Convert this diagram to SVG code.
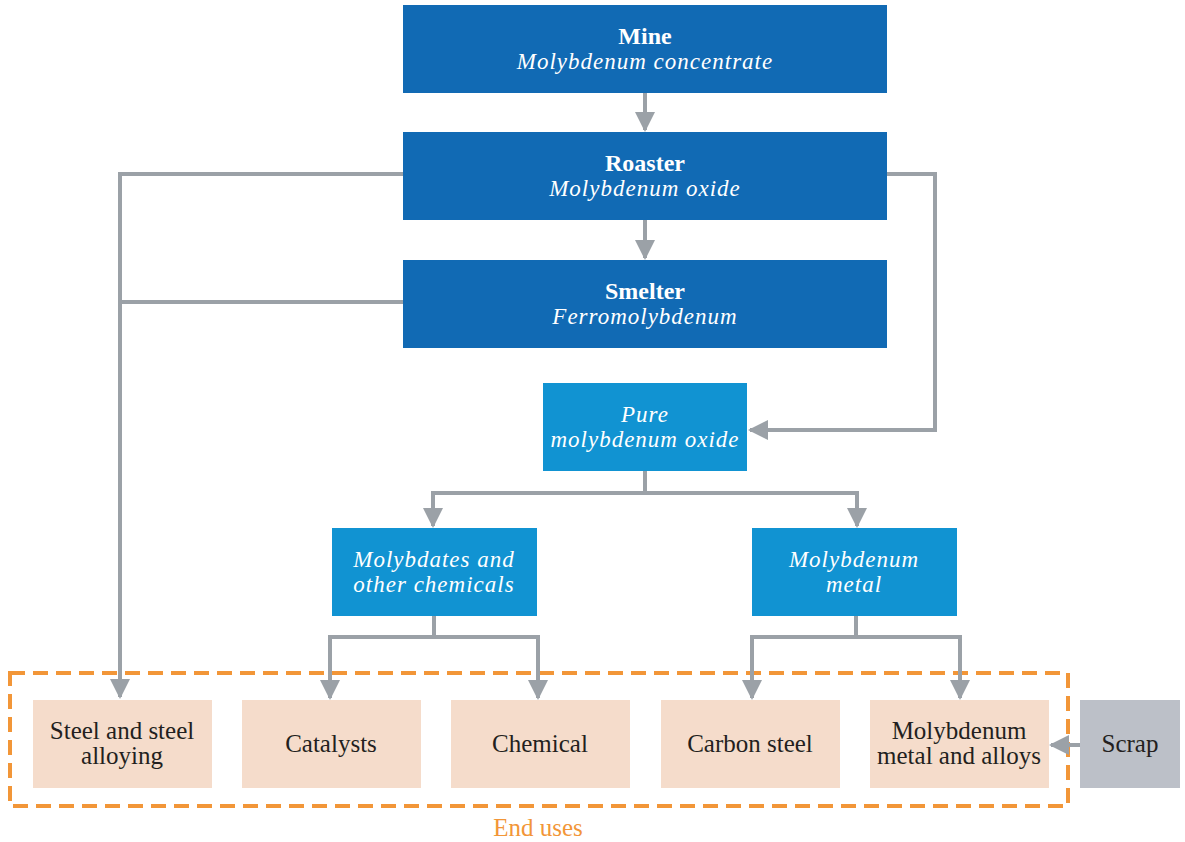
<svg xmlns="http://www.w3.org/2000/svg" width="1185" height="842" viewBox="0 0 1185 842">
<style>
.dk{fill:#116ab4}
.lt{fill:#1193d2}
.eu{fill:#f5dccb}
.t{font-family:"Liberation Serif","Times New Roman",serif;font-size:25px;text-anchor:middle}
.w{fill:#ffffff}
.b{font-weight:bold;font-size:24px}
.i{font-style:italic;font-size:23px;letter-spacing:1px}
.k{fill:#231f20}
.c{fill:none;stroke:#9ba1a7;stroke-width:4}
</style>
<defs>
<marker id="ah" markerWidth="5" markerHeight="5" refX="4.5" refY="2.5" orient="auto-start-reverse" markerUnits="strokeWidth">
<path d="M0,0 L5,2.5 L0,5 Z" fill="#9ba1a7"/>
</marker>
</defs>
<rect x="10" y="673" width="1058" height="133" fill="none" stroke="#f29638" stroke-width="4" stroke-dasharray="15 8"/>
<g id="connectors">
<path class="c" d="M645,93 V130" marker-end="url(#ah)"/>
<path class="c" d="M645,220 V258" marker-end="url(#ah)"/>
<path class="c" d="M403,174 H120 V697" marker-end="url(#ah)"/>
<path class="c" d="M403,302 H120"/>
<path class="c" d="M887,174 H935 V430 H750" marker-end="url(#ah)"/>
<path class="c" d="M645,471 V493"/>
<path class="c" d="M433,526 V493 H857 V526" marker-start="url(#ah)" marker-end="url(#ah)"/>
<path class="c" d="M434,616 V637"/>
<path class="c" d="M330,698 V637 H538 V698" marker-start="url(#ah)" marker-end="url(#ah)"/>
<path class="c" d="M856,616 V637"/>
<path class="c" d="M752,698 V637 H960 V698" marker-start="url(#ah)" marker-end="url(#ah)"/>
<path class="c" d="M1080,745 H1051" marker-end="url(#ah)"/>
</g>
<g id="mine"><rect class="dk" x="403" y="5" width="484" height="88"/><text class="t w b" x="645" y="44">Mine</text><text class="t w i" x="645" y="69">Molybdenum concentrate</text></g>
<g id="roaster"><rect class="dk" x="403" y="132" width="484" height="88"/><text class="t w b" x="645" y="171">Roaster</text><text class="t w i" x="645" y="196">Molybdenum oxide</text></g>
<g id="smelter"><rect class="dk" x="403" y="260" width="484" height="88"/><text class="t w b" x="645" y="299">Smelter</text><text class="t w i" x="645" y="324">Ferromolybdenum</text></g>
<g id="pure"><rect class="lt" x="543" y="383" width="204" height="88"/><text class="t w i" x="645" y="422">Pure</text><text class="t w i" x="645" y="447">molybdenum oxide</text></g>
<g id="molybdates"><rect class="lt" x="332" y="528" width="205" height="88"/><text class="t w i" x="434" y="567">Molybdates and</text><text class="t w i" x="434" y="592">other chemicals</text></g>
<g id="mometal"><rect class="lt" x="752" y="528" width="205" height="88"/><text class="t w i" x="854" y="567">Molybdenum</text><text class="t w i" x="854" y="592">metal</text></g>
<g id="steel"><rect class="eu" x="33" y="700" width="179" height="88"/><text class="t k" x="122" y="739">Steel and steel</text><text class="t k" x="122" y="764">alloying</text></g>
<g id="catalysts"><rect class="eu" x="242" y="700" width="179" height="88"/><text class="t k" x="331" y="752">Catalysts</text></g>
<g id="chemical"><rect class="eu" x="451" y="700" width="179" height="88"/><text class="t k" x="540" y="752">Chemical</text></g>
<g id="carbonsteel"><rect class="eu" x="661" y="700" width="179" height="88"/><text class="t k" x="750" y="752">Carbon steel</text></g>
<g id="moalloys"><rect class="eu" x="870" y="700" width="179" height="88"/><text class="t k" x="959" y="739">Molybdenum</text><text class="t k" x="959" y="764">metal and alloys</text></g>
<g id="scrap"><rect x="1080" y="700" width="100" height="88" fill="#bcc0c8"/><text class="t k" x="1130" y="752">Scrap</text></g>
<g id="enduses"><text class="t" x="538" y="836" fill="#f29638">End uses</text></g>
</svg>
